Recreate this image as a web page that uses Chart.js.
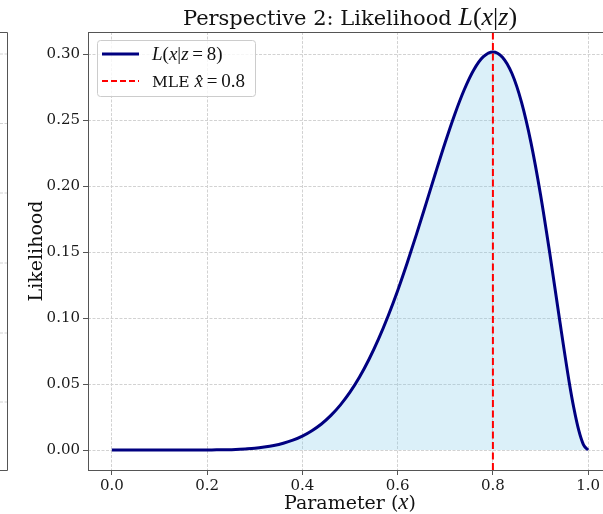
<!DOCTYPE html>
<html><head><meta charset="utf-8">
<script src="https://cdn.jsdelivr.net/npm/chart.js@4/dist/chart.umd.min.js"></script>
<style>html,body{margin:0;padding:0;overflow:hidden;background:#fff}canvas{display:block}</style>
</head><body>
<canvas id="c" width="620" height="514" style="width:620px;height:514px"></canvas>
<script>
// ---- data ----
const xValues = [0.00,0.02,0.04,0.06,0.08,0.10,0.12,0.14,0.16,0.18,0.20,0.22,0.24,0.26,0.28,0.30,0.32,0.34,0.36,0.38,0.40,0.42,0.44,0.46,0.48,0.50,0.52,0.54,0.56,0.58,0.60,0.62,0.64,0.66,0.68,0.70,0.72,0.74,0.76,0.78,0.80,0.82,0.84,0.86,0.88,0.90,0.92,0.94,0.96,0.97,0.98,0.99,1.00];
const likelihood = [0,0,0,0,0,0,0,0,0,0,0.0001,0.0002,0.0003,0.0005,0.0009,0.0014,0.0023,0.0035,0.0052,0.0075,0.0106,0.0147,0.0198,0.0263,0.0343,0.0439,0.0554,0.0689,0.0843,0.1017,0.1209,0.1419,0.1642,0.1873,0.2107,0.2335,0.2548,0.2735,0.2885,0.2984,0.3020,0.2980,0.2856,0.2639,0.2330,0.1937,0.1478,0.0988,0.0519,0.0317,0.0153,0.0042,0];
const mleX = 0.8;
const xTickValues = [0.0,0.2,0.4,0.6,0.8,1.0];
const yTickValues = [0.00,0.05,0.10,0.15,0.20,0.25,0.30];
const xLimits = [-0.05,1.05];
const yLimits = [-0.0151,0.3171];
const titleParts = [["Perspective 2: Likelihood ","r"],["L","i"],["(","m"],["x","i"],["|","m"],["z","i"],[")","m"]];
const legendLabels = [
  [["L","i"],["(","m"],["x","i"],["|","m"],["z","i"],["\u2009=\u20098)","m"]],
  [["MLE ","r"],["x\u0302","i"],["\u2009=\u20090.8","m"]]
];
const xLabelParts = [["Parameter (","r"],["x","i"],[")","r"]];
const yLabelText = "Likelihood";

// ---- layout ----
const AREA = {left:88, top:32, right:612, bottom:470};
const SERIF = "'DejaVu Serif', serif";
const MATH = "'Liberation Serif', serif";
const MATH_SCALE = 1.22;

function fontFor(kind, size){
  if(kind==="r") return size+"px "+SERIF;
  if(kind==="i") return "italic "+Math.round(size*MATH_SCALE)+"px "+MATH;
  return Math.round(size*MATH_SCALE)+"px "+MATH;
}
function richWidth(ctx, parts, size){
  let w=0; for(const [t,k] of parts){ctx.font=fontFor(k,size); w+=ctx.measureText(t).width;} return w;
}
function drawRich(ctx, parts, x, y, size, align){
  let w = richWidth(ctx, parts, size);
  let cx = align==="center" ? x-w/2 : x;
  ctx.textBaseline="alphabetic"; ctx.textAlign="left";
  for(const [t,k] of parts){ctx.font=fontFor(k,size); ctx.fillText(t,cx,y); cx+=ctx.measureText(t).width;}
}

const GRID_COLOR = '#d2d2d2';
const GRID_DASH = [3,1.5];

const decor = {
  id:'decor',
  beforeDraw(chart){
    const ctx=chart.ctx;
    ctx.save();
    ctx.fillStyle='#fff'; ctx.fillRect(0,0,chart.width,chart.height);
    // partial neighbouring panel at the left edge
    ctx.strokeStyle=GRID_COLOR; ctx.lineWidth=1; ctx.setLineDash(GRID_DASH);
    for(const gy of [54,123.5,193,263,333,402]){ctx.beginPath();ctx.moveTo(0,gy);ctx.lineTo(7,gy);ctx.stroke();}
    ctx.setLineDash([]); ctx.strokeStyle='#555'; ctx.lineWidth=1;
    ctx.beginPath(); ctx.moveTo(0,32.5); ctx.lineTo(7.5,32.5); ctx.lineTo(7.5,470.5); ctx.lineTo(0,470.5); ctx.stroke();
    ctx.restore();
  },
  afterDraw(chart){
    const ctx=chart.ctx, a=chart.chartArea;
    ctx.save();
    ctx.strokeStyle='#555'; ctx.lineWidth=1;
    ctx.strokeRect(a.left+0.5,a.top+0.5,a.right-a.left,a.bottom-a.top);
    ctx.fillStyle='#111';
    // title
    drawRich(ctx,titleParts,(a.left+a.right)/2,25,21,"center");
    // x label
    drawRich(ctx,xLabelParts,(a.left+a.right)/2,509,19,"center");
    // y label
    ctx.save(); ctx.translate(42,(a.top+a.bottom)/2); ctx.rotate(-Math.PI/2);
    ctx.font="19px "+SERIF; ctx.textAlign="center"; ctx.textBaseline="alphabetic"; ctx.fillText(yLabelText,0,0);
    ctx.restore();
    // legend
    ctx.fillStyle='rgba(255,255,255,0.8)'; ctx.strokeStyle='#cccccc'; ctx.lineWidth=1;
    ctx.beginPath(); ctx.roundRect(97.5,40.5,158,56,3); ctx.fill(); ctx.stroke();
    ctx.lineWidth=3; ctx.strokeStyle='#000080'; ctx.beginPath(); ctx.moveTo(102,54); ctx.lineTo(139,54); ctx.stroke();
    ctx.lineWidth=2; ctx.strokeStyle='#ff0000'; ctx.setLineDash([6,3]); ctx.beginPath(); ctx.moveTo(102,81); ctx.lineTo(139,81); ctx.stroke(); ctx.setLineDash([]);
    ctx.fillStyle='#111';
    drawRich(ctx,legendLabels[0],152,60,15.5,"left");
    drawRich(ctx,legendLabels[1],152,87,15.5,"left");
    ctx.restore();
  }
};

const curvePoints = xValues.map((x,i)=>({x:x,y:likelihood[i]}));
const gridCommon = {color:GRID_COLOR, lineWidth:1, tickColor:'#555', tickLength:5, tickWidth:1};

new Chart(document.getElementById('c'),{
  type:'line',
  data:{datasets:[
    {label:'MLE', data:[{x:mleX,y:yLimits[0]},{x:mleX,y:yLimits[1]}], borderColor:'#ff0000', borderWidth:2, borderDash:[7,3.5], pointRadius:0, fill:false},
    {label:'L(x|z=8)', data:curvePoints, borderColor:'#000080', borderWidth:3, pointRadius:0, cubicInterpolationMode:'monotone', fill:'origin', backgroundColor:'rgba(135,206,235,0.3)'}
  ]},
  options:{
    responsive:false, animation:false, events:[],
    layout:{padding:{left:0,top:AREA.top,right:620-AREA.right,bottom:0}},
    plugins:{legend:{display:false},tooltip:{enabled:false},title:{display:false}},
    scales:{
      x:{type:'linear',min:xLimits[0],max:xLimits[1],
        afterFit(s){s.height=514-AREA.bottom;},
        afterBuildTicks(s){s.ticks=xTickValues.map(v=>({value:v}));},
        ticks:{font:{family:'DejaVu Serif',size:15},color:'#1a1a1a',padding:2,maxRotation:0,autoSkip:false,callback:v=>v.toFixed(1)},
        grid:gridCommon, border:{display:false,dash:GRID_DASH}},
      y:{type:'linear',min:yLimits[0],max:yLimits[1],
        afterFit(s){s.width=AREA.left;},
        afterBuildTicks(s){s.ticks=yTickValues.map(v=>({value:v}));},
        ticks:{font:{family:'DejaVu Serif',size:15},color:'#1a1a1a',padding:3,autoSkip:false,callback:v=>v.toFixed(2)},
        grid:gridCommon, border:{display:false,dash:GRID_DASH}}
    }
  },
  plugins:[decor]
});
</script>
</body></html>
